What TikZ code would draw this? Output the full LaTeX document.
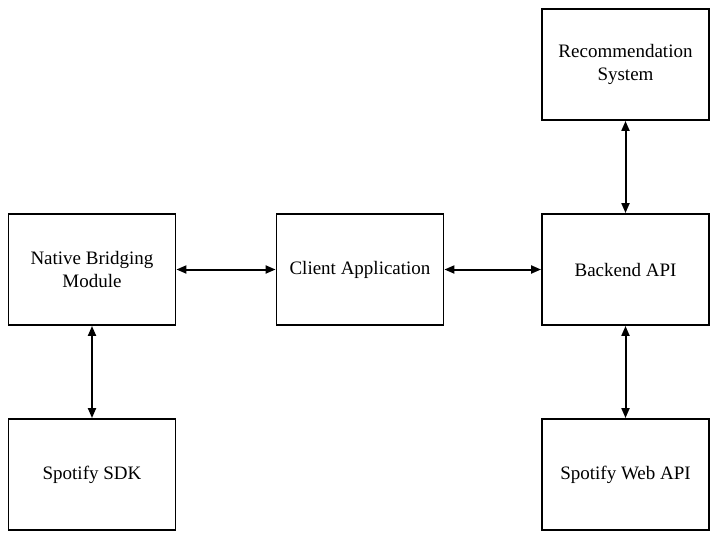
\documentclass[tikz,border=0pt]{standalone}
\usepackage{fontspec}
\setmainfont{Liberation Serif}
\usetikzlibrary{arrows.meta}
\begin{document}
\begin{tikzpicture}[x=1pt,y=-1pt,
  box/.style={draw=black, line width=1.3pt, minimum width=167pt, minimum height=111pt,
    inner sep=0pt, align=center, font=\fontsize{19}{22.5}\selectfont},
  link/.style={line width=2pt, {Triangle[length=10pt,width=8pt]}-{Triangle[length=10pt,width=8pt]}, shorten <=0.3pt, shorten >=0.3pt}]
\useasboundingbox (0,0) rectangle (716,538);
\node[box] (rec) at (625.5,64.5) {Recommendation\\System};
\node[box] (nbm) at (92,269.5) {Native Bridging\\Module};
\node[box] (client) at (360,269.5) {Client Application};
\node[box] (backend) at (625.5,269.5) {Backend API};
\node[box] (sdk) at (92,474.5) {Spotify SDK};
\node[box] (web) at (625.5,474.5) {Spotify Web API};
\draw[link] (nbm) -- (client);
\draw[link] (client) -- (backend);
\draw[link] (rec) -- (backend);
\draw[link] (nbm) -- (sdk);
\draw[link] (backend) -- (web);
\end{tikzpicture}
\end{document}
